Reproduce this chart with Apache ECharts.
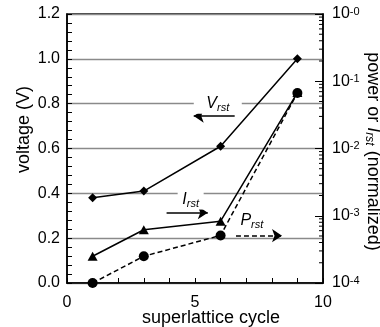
<!DOCTYPE html>
<html>
<head>
<meta charset="utf-8">
<script src="https://cdn.jsdelivr.net/npm/echarts@6/dist/echarts.min.js"></script>
<style>
  html, body { margin: 0; padding: 0; background: #fff; }
  #chart { width: 380px; height: 327px; }
</style>
</head>
<body>
<div id="chart"></div>
<script>
// Superlattice cycles on the x axis
const cycles = [1, 3, 6, 9];
// Reset voltage V_rst (V), left axis
const vrst = [0.38, 0.41, 0.61, 1.0];
// Reset current I_rst (normalized), right log axis
const irst = [2.5e-4, 6.2e-4, 8.3e-4, 6.8e-2];
// Reset power P_rst (normalized), right log axis
const prst = [1.0e-4, 2.5e-4, 5.1e-4, 6.7e-2];

// Tick labels
const xTickLabels = ['0', '5', '10'];
const voltageTickLabels = ['0.0', '0.2', '0.4', '0.6', '0.8', '1.0', '1.2'];
const powerExponents = ['-4', '-3', '-2', '-1', '-0'];

const FONT = "'Liberation Sans', Arial, Helvetica, sans-serif";

// Minor ticks (2..9 per decade) for the logarithmic right axis
const logMinorTicks = [];
for (let d = -4; d < 0; d++) {
  for (let m = 2; m <= 9; m++) logMinorTicks.push(m * Math.pow(10, d));
}

const pairs = (xs, ys) => xs.map((x, i) => [x, ys[i]]);

const subLabel = (main, sub) => '{m|' + main + '}{s|' + sub + '}';
const subRich = {
  m: { fontFamily: FONT, fontSize: 16, fontStyle: 'italic', color: '#000', lineHeight: 19 },
  s: { fontFamily: FONT, fontSize: 11, fontStyle: 'italic', color: '#000', lineHeight: 11, padding: [8, 0, 0, 0] }
};
const textBox = (coord, size, main, sub) => ({
  coord: coord,
  symbol: 'rect',
  symbolSize: size,
  itemStyle: { color: '#fff' },
  label: { show: true, position: 'inside', formatter: subLabel(main, sub), rich: subRich }
});
const arrow = (from, to) => [{ coord: from, symbol: 'none' }, { coord: to, symbol: 'arrow', symbolSize: 10 }];
const arrowLine = (dashType, lines) => ({
  silent: true,
  animation: false,
  symbol: ['none', 'arrow'],
  symbolSize: 10,
  label: { show: false },
  emphasis: { disabled: true },
  lineStyle: { color: '#000', width: 1.5, type: dashType },
  data: lines
});
const textMarks = (items) => ({
  silent: true,
  animation: false,
  emphasis: { disabled: true },
  data: items
});

const axisBlack = { color: '#000', width: 1.5 };
const tickStyle = { color: '#000', width: 1 };

const option = {
  animation: false,
  backgroundColor: '#fff',
  grid: {
    left: 67, right: 57, top: 14, bottom: 44,
    outerBoundsMode: 'none', containLabel: false,
    show: true, borderColor: '#000', borderWidth: 1.5, backgroundColor: 'transparent'
  },
  xAxis: {
    type: 'value', min: 0, max: 10, interval: 5,
    axisLine: { onZero: false, lineStyle: axisBlack },
    axisTick: { inside: true, length: 5, lineStyle: tickStyle },
    minorTick: { show: true, splitNumber: 5, length: 5, lineStyle: tickStyle },
    splitLine: { show: false },
    axisLabel: {
      color: '#000', fontSize: 16, fontFamily: FONT, margin: 12,
      formatter: (v) => xTickLabels[Math.round(v / 5)]
    },
    name: 'superlattice cycle', nameLocation: 'middle', nameGap: 26, nameMoveOverlap: false,
    nameTextStyle: { color: '#000', fontSize: 18, fontFamily: FONT, padding: [0, 0, 0, 32] }
  },
  yAxis: [
    {
      type: 'value', min: 0, max: 1.2, interval: 0.2,
      axisLine: { onZero: false, lineStyle: axisBlack },
      axisTick: { inside: true, length: 5, lineStyle: tickStyle },
      minorTick: { show: true, splitNumber: 5, length: 5, lineStyle: tickStyle },
      splitLine: { show: true, lineStyle: { color: '#8a8a8a', width: 1.3 } },
      axisLabel: {
        color: '#000', fontSize: 16, fontFamily: FONT, margin: 7,
        formatter: (v) => voltageTickLabels[Math.round(v / 0.2)]
      },
      name: 'voltage (V)', nameLocation: 'middle', nameGap: 34, nameMoveOverlap: false,
      nameTextStyle: { color: '#000', fontSize: 18, fontFamily: FONT, padding: [0, 0, 0, 38] }
    },
    {
      type: 'log', logBase: 10, min: 1e-4, max: 1, position: 'right',
      axisLine: { onZero: false, lineStyle: axisBlack },
      axisTick: { inside: true, length: 8, lineStyle: tickStyle },
      splitLine: { show: false },
      axisLabel: {
        margin: 9,
        formatter: (v) => '{b|10}{s|' + powerExponents[Math.round(Math.log10(v)) + 4] + '}',
        rich: {
          b: { color: '#000', fontSize: 16, fontFamily: FONT, lineHeight: 16, verticalAlign: 'bottom' },
          s: { color: '#000', fontSize: 11, fontFamily: FONT, lineHeight: 11, padding: [0, 0, 7, 0], verticalAlign: 'top' }
        }
      },
      name: '{t|power or }{i|I}{s|rst}{t| (normalized)}', nameLocation: 'middle', nameGap: 40, nameRotate: -90,
      nameMoveOverlap: false,
      nameTextStyle: {
        color: '#000', fontSize: 18, fontFamily: FONT, padding: [0, 0, 0, 6],
        rich: {
          t: { color: '#000', fontSize: 18, fontFamily: FONT, lineHeight: 20 },
          i: { color: '#000', fontSize: 18, fontFamily: FONT, fontStyle: 'italic', lineHeight: 20 },
          s: { color: '#000', fontSize: 12, fontFamily: FONT, fontStyle: 'italic', lineHeight: 12, padding: [8, 0, 0, 0] }
        }
      }
    }
  ],
  series: [
    {
      name: 'log minor ticks', type: 'custom', xAxisIndex: 0, yAxisIndex: 1,
      silent: true, clip: false, z: 5,
      data: logMinorTicks.map((v) => [10, v]),
      renderItem: (params, api) => {
        const p = api.coord([api.value(0), api.value(1)]);
        return { type: 'line', shape: { x1: p[0], y1: p[1], x2: p[0] - 4, y2: p[1] }, style: { stroke: '#000', lineWidth: 1 } };
      }
    },
    {
      name: 'V_rst', type: 'line', xAxisIndex: 0, yAxisIndex: 0,
      data: pairs(cycles, vrst),
      symbol: 'diamond', symbolSize: 9,
      lineStyle: { color: '#000', width: 1.5 },
      itemStyle: { color: '#000' },
      markLine: arrowLine('solid', [arrow([6.55, 0.745], [4.95, 0.745])]),
      markPoint: textMarks([textBox([5.89, 0.8], [48, 20], 'V', 'rst')])
    },
    {
      name: 'I_rst', type: 'line', xAxisIndex: 0, yAxisIndex: 1,
      data: pairs(cycles, irst),
      symbol: 'triangle', symbolSize: [10, 9],
      lineStyle: { color: '#000', width: 1.5 },
      itemStyle: { color: '#000' },
      markLine: arrowLine('solid', [arrow([3.89, 1.11e-3], [5.5, 1.11e-3])]),
      markPoint: textMarks([textBox([4.83, 1.74e-3], [26, 20], 'I', 'rst')])
    },
    {
      name: 'P_rst', type: 'line', xAxisIndex: 0, yAxisIndex: 1,
      data: pairs(cycles, prst),
      symbol: 'circle', symbolSize: 10,
      lineStyle: { color: '#000', width: 1.5, type: [5, 3] },
      itemStyle: { color: '#000' },
      markLine: arrowLine([5, 3], [arrow([6.6, 5.06e-4], [8.4, 5.06e-4])]),
      markPoint: textMarks([textBox([7.22, 8.45e-4], [28, 20], 'P', 'rst')])
    }
  ]
};

const chart = echarts.init(document.getElementById('chart'), null, { renderer: 'canvas' });
chart.setOption(option);
</script>
</body>
</html>
